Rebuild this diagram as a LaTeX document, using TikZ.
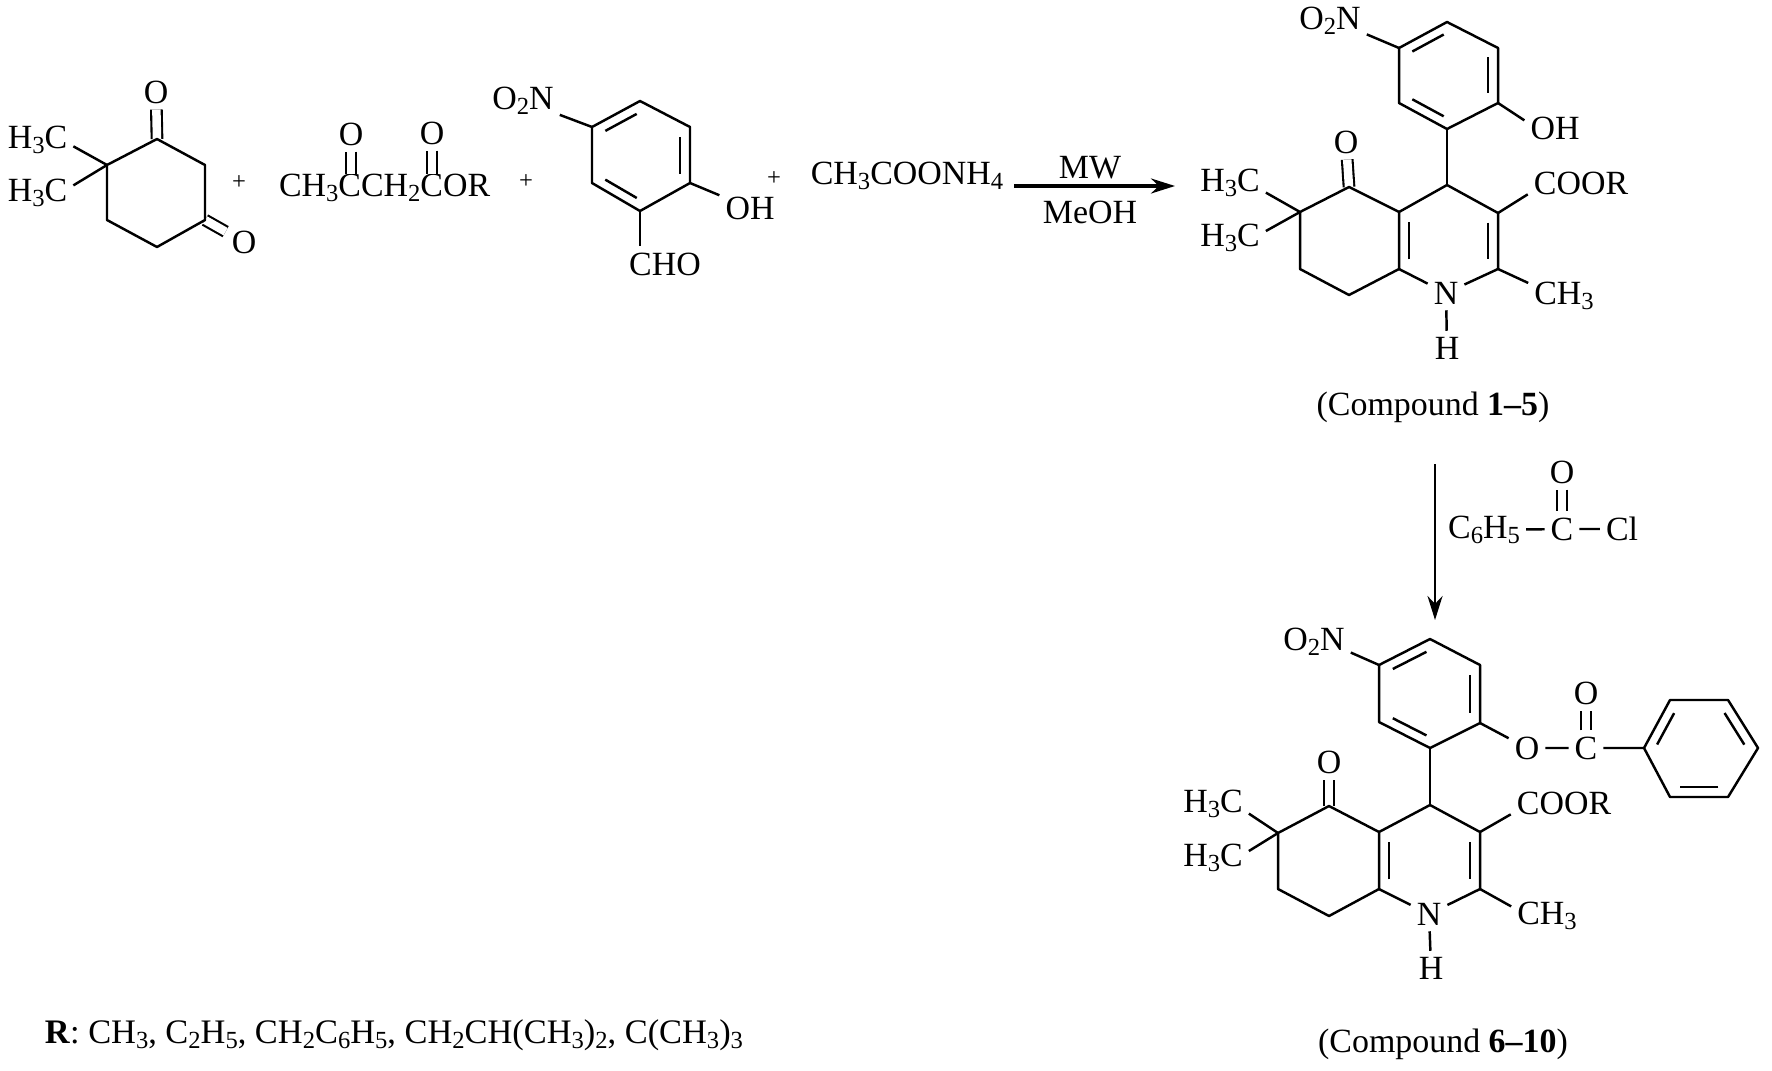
\documentclass[tikz,border=0pt]{standalone}
\usepackage{fontspec}
\setmainfont{Liberation Serif}
\usetikzlibrary{positioning,calc,arrows.meta}

\newcommand{\dn}[1]{\raisebox{-.35ex}{\fontsize{7}{8}\selectfont #1}}

\tikzset{
  atom/.style={inner sep=1.4pt,font=\fontsize{9.65}{12}\selectfont},
  glued/.style={inner sep=0pt,outer sep=0pt,font=\fontsize{9.65}{12}\selectfont},
  plusmark/.style={inner sep=0pt,font=\fontsize{7}{8}\selectfont},
  dblbond/.style={double,double distance=.85mm,line width=.6pt},
  innerline/.style={shorten >=.4mm,shorten <=.4mm},
  rxnarrow/.style={-{Stealth[length=2.4mm,width=1.5mm]}}
}

\begin{document}
\begin{tikzpicture}[x=.1mm,y=-.1mm,line width=.7pt,line join=round]
  \useasboundingbox (0,0) rectangle (1772,1070);

  % dimethyl dione
  \coordinate (d1) at (157,139);
  \coordinate (d2) at (205,165);
  \coordinate (d3) at (205,220);
  \coordinate (d4) at (157,247);
  \coordinate (d5) at (107,220);
  \coordinate (d6) at (107,165);
  \begin{scope}[every node/.style={atom}]
    \node (hA) at (37.5,140) {H\dn{3}C};
    \node (hB) at (37.5,193) {H\dn{3}C};
    \node (oA) at (156,92) {O};
    \node (oB) at (244,242) {O};
  \end{scope}
  \draw[dblbond] (d1) -- (oA);
  \draw[dblbond] (d3) -- (oB);
  \draw (d1) -- (d2) -- (d3) -- (d4) -- (d5) -- (d6) -- cycle;
  \draw (d6) -- (hA.-10);
  \draw (d6) -- (hB.12);
  \node[plusmark] (plusA) at (239,183) {+};

  % keto ester
  \node[glued,anchor=base west] (ch3) at (279,196) {CH\dn{3}};
  \node[glued,base right=0pt of ch3] (cx) {C};
  \node[glued,base right=0pt of cx] (ch2) {CH\dn{2}};
  \node[glued,base right=0pt of ch2] (cy) {C};
  \node[glued,base right=0pt of cy] (orest) {OR};
  \node[atom] (ox) at (351,134) {O};
  \node[atom] (oy) at (432,133) {O};
  \draw[dblbond] (ox) -- (ox |- cx.north);
  \draw[dblbond] (oy) -- (oy |- cy.north);
  \node[plusmark] (plusB) at (526,182) {+};

  % nitro salicylaldehyde
  \coordinate (s1) at (640,101);
  \coordinate (s2) at (690,127);
  \coordinate (s3) at (690,183);
  \coordinate (s4) at (640,211);
  \coordinate (s5) at (592,183);
  \coordinate (s6) at (592,127);
  \coordinate (sc) at (641,156);
  \begin{scope}[every node/.style={atom}]
    \node (no2A) at (523,101) {O\dn{2}N};
    \node (ohA) at (750,208) {OH};
    \node (cho) at (665,264) {CHO};
  \end{scope}
  \draw (s1) -- (s2) -- (s3) -- (s4) -- (s5) -- (s6) -- cycle;
  \foreach \u/\v in {s6/s1,s2/s3,s4/s5}
    \draw[innerline] ($(\u)!.2!(sc)$) -- ($(\v)!.2!(sc)$);
  \draw (s6) -- (no2A);
  \draw (s3) -- (ohA);
  \draw (s4) -- (s4 |- cho.north);
  \node[plusmark] (plusC) at (774,179) {+};

  % first step
  \node[atom] (salt) at (907,176) {CH\dn{3}COONH\dn{4}};
  \coordinate (arrA) at (1014,186);
  \coordinate (arrB) at (1175,186);
  \draw[rxnarrow,line width=.9pt] (arrA) -- (arrB);
  \node[atom] (mw) at (1090,168) {MW};
  \node[atom] (meoh) at (1090,212) {MeOH};

  % compound 1-5
  \coordinate (a1) at (1447,22);
  \coordinate (a2) at (1498,48);
  \coordinate (a3) at (1498,103);
  \coordinate (a4) at (1447,129);
  \coordinate (a5) at (1399,103);
  \coordinate (a6) at (1399,48);
  \coordinate (ac) at (1448,75);
  \coordinate (b1) at (1447,185);
  \coordinate (b2) at (1498,213);
  \coordinate (b3) at (1498,269);
  \coordinate (b4) at (1399,269);
  \coordinate (b5) at (1399,212);
  \coordinate (bc) at (1448,241);
  \coordinate (k1) at (1349,187);
  \coordinate (k2) at (1300,212);
  \coordinate (k3) at (1300,269);
  \coordinate (k4) at (1349,295);
  \begin{scope}[every node/.style={atom}]
    \node (no2B) at (1330,21) {O\dn{2}N};
    \node (ohB) at (1555,128) {OH};
    \node (oC) at (1346,142) {O};
    \node (hC) at (1230,183) {H\dn{3}C};
    \node (hD) at (1230,238) {H\dn{3}C};
    \node (coorA) at (1581,183) {COOR};
    \node (meA) at (1564,296) {CH\dn{3}};
    \node (nA) at (1446,293) {N};
    \node (hnA) at (1447,348) {H};
    \node (cmpA) at (1433,407) {(Compound \textbf{1--5})};
  \end{scope}
  \draw[dblbond] (k1) -- (oC);
  \draw (a1) -- (a2) -- (a3) -- (a4) -- (a5) -- (a6) -- cycle;
  \foreach \u/\v in {a6/a1,a2/a3,a4/a5}
    \draw[innerline] ($(\u)!.2!(ac)$) -- ($(\v)!.2!(ac)$);
  \draw (b4) -- (b5) -- (b1) -- (b2) -- (b3);
  \draw (b5) -- (k1) -- (k2) -- (k3) -- (k4) -- (b4);
  \draw (a4) -- (b1);
  \draw (b3) -- (nA) -- (b4);
  \draw (nA) -- (hnA);
  \foreach \u/\v in {b4/b5,b2/b3}
    \draw[innerline] ($(\u)!.2!(bc)$) -- ($(\v)!.2!(bc)$);
  \draw (a6) -- (no2B.-20);
  \draw (a3) -- (ohB.166);
  \draw (k2) -- (hC.-15);
  \draw (k2) -- (hD.11);
  \draw (b2) -- (coorA.192);
  \draw (b3) -- (meA.160);

  % second step
  \coordinate (arrC) at (1435,464);
  \coordinate (arrD) at (1435,620);
  \draw[rxnarrow] (arrC) -- (arrD);
  \begin{scope}[every node/.style={atom}]
    \node (phen) at (1484,530) {C\dn{6}H\dn{5}};
    \node (ccl) at (1562,529) {C};
    \node (cl) at (1622,529) {Cl};
    \node (ocl) at (1562,472) {O};
  \end{scope}
  \draw (phen) -- (ccl) -- (cl);
  \draw[dblbond] (ocl) -- (ccl);

  % compound 6-10
  \coordinate (e1) at (1430,639);
  \coordinate (e2) at (1480,665);
  \coordinate (e3) at (1480,723);
  \coordinate (e4) at (1430,748);
  \coordinate (e5) at (1379,722);
  \coordinate (e6) at (1379,665);
  \coordinate (ec) at (1430,694);
  \coordinate (f1) at (1430,805);
  \coordinate (f2) at (1480,832);
  \coordinate (f3) at (1480,889);
  \coordinate (f4) at (1379,889);
  \coordinate (f5) at (1379,832);
  \coordinate (fc) at (1430,861);
  \coordinate (m1) at (1329,806);
  \coordinate (m2) at (1278,833);
  \coordinate (m3) at (1278,889);
  \coordinate (m4) at (1329,916);
  \coordinate (r1) at (1644,748);
  \coordinate (r2) at (1670,700);
  \coordinate (r3) at (1728,700);
  \coordinate (r4) at (1758,748);
  \coordinate (r5) at (1728,797);
  \coordinate (r6) at (1670,797);
  \coordinate (rc) at (1700,748);
  \begin{scope}[every node/.style={atom}]
    \node (no2C) at (1314,642) {O\dn{2}N};
    \node (oD) at (1329,762) {O};
    \node (hE) at (1213,804) {H\dn{3}C};
    \node (hF) at (1213,858) {H\dn{3}C};
    \node (coorB) at (1564,803) {COOR};
    \node (meB) at (1547,916) {CH\dn{3}};
    \node (nB) at (1429,914) {N};
    \node (hnB) at (1431,968) {H};
    \node (oE) at (1527,748) {O};
    \node (cE) at (1586,748) {C};
    \node (oF) at (1586,693) {O};
    \node (cmpB) at (1443,1044) {(Compound \textbf{6--10})};
  \end{scope}
  \draw[dblbond] (m1) -- (oD);
  \draw[dblbond] (cE) -- (oF);
  \draw (e1) -- (e2) -- (e3) -- (e4) -- (e5) -- (e6) -- cycle;
  \foreach \u/\v in {e6/e1,e2/e3,e4/e5}
    \draw[innerline] ($(\u)!.2!(ec)$) -- ($(\v)!.2!(ec)$);
  \draw (f4) -- (f5) -- (f1) -- (f2) -- (f3);
  \draw (f5) -- (m1) -- (m2) -- (m3) -- (m4) -- (f4);
  \draw (e4) -- (f1);
  \draw (f3) -- (nB) -- (f4);
  \draw (nB) -- (hnB);
  \foreach \u/\v in {f4/f5,f2/f3}
    \draw[innerline] ($(\u)!.2!(fc)$) -- ($(\v)!.2!(fc)$);
  \draw (e6) -- (no2C.-16);
  \draw (m2) -- (hE.-15);
  \draw (m2) -- (hF.11);
  \draw (f2) -- (coorB.192);
  \draw (f3) -- (meB.165);
  \draw (e3) -- (oE) -- (cE) -- (r1);
  \draw (r1) -- (r2) -- (r3) -- (r4) -- (r5) -- (r6) -- cycle;
  \foreach \u/\v in {r1/r2,r3/r4,r5/r6}
    \draw[innerline] ($(\u)!.2!(rc)$) -- ($(\v)!.2!(rc)$);

  % substituents
  \node[atom,font=\fontsize{9.78}{12}\selectfont] (rlist) at (394,1035) {\textbf{R}: CH\dn{3}, C\dn{2}H\dn{5}, CH\dn{2}C\dn{6}H\dn{5}, CH\dn{2}CH(CH\dn{3})\dn{2}, C(CH\dn{3})\dn{3}};

\end{tikzpicture}
\end{document}
